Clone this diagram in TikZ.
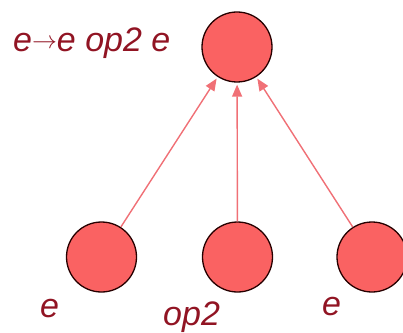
\documentclass[tikz,border=0pt]{standalone}
\usepackage{fontspec}
\setmainfont{Liberation Sans}
\usetikzlibrary{arrows.meta}
\definecolor{nodefill}{RGB}{250,98,98}
\definecolor{edgecol}{RGB}{240,112,118}
\definecolor{labcol}{RGB}{145,20,35}
\tikzset{
  tnode/.style={circle, draw=black!85!red, line width=1.3pt, fill=nodefill, minimum size=70pt, inner sep=0pt},
  edge/.style={draw=edgecol, line width=1.4pt, -{Triangle[length=12pt,width=10pt]}, shorten >=2pt},
  lab/.style={text=labcol, font=\fontsize{34}{34}\selectfont\itshape, inner sep=0pt, anchor=base west}
}
\begin{document}
\begin{tikzpicture}[x=1pt,y=1pt]
\useasboundingbox (0,0) rectangle (403,332);
\node[tnode] (top) at (237,285) {};
\node[tnode] (b1) at (101.5,75) {};
\node[tnode] (b2) at (237.5,75) {};
\node[tnode] (b3) at (372,75) {};
\node[lab] (rule) at (13,280) {e\raisebox{3.5pt}{\fontsize{25}{25}\selectfont$\rightarrow$}e op2 e};
\node[lab] (l1) at (40,15) {e};
\node[lab] (l2) at (163,7) {op2};
\node[lab] (l3) at (322,17) {e};
\draw[edge] (b1) -- (top);
\draw[edge] (b2) -- (top);
\draw[edge] (b3) -- (top);
\end{tikzpicture}
\end{document}
